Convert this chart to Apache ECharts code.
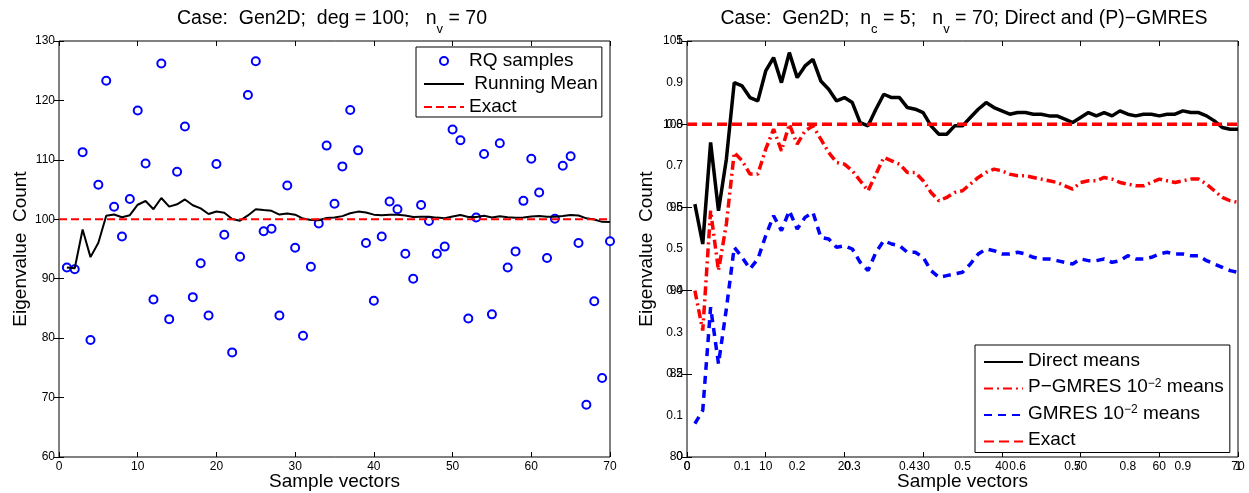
<!DOCTYPE html>
<html><head><meta charset="utf-8">
<script src="https://cdn.jsdelivr.net/npm/echarts@6/dist/echarts.min.js"></script>
<style>html,body{margin:0;padding:0;background:#fff}#c{width:1249px;height:493px}</style>
</head><body><div id="c"></div>
<script>
const sampleIdx = [1,2,3,4,5,6,7,8,9,10,11,12,13,14,15,16,17,18,19,20,21,22,23,24,25,26,27,28,29,30,31,32,33,34,35,36,37,38,39,40,41,42,43,44,45,46,47,48,49,50,51,52,53,54,55,56,57,58,59,60,61,62,63,64,65,66,67,68,69,70];
const rqSamples = [91.9,91.6,111.3,79.7,105.8,123.3,102.1,97.1,103.4,118.3,
  109.4,86.5,126.2,83.2,108.0,115.6,86.9,92.6,83.8,109.3,
  97.4,77.6,93.7,120.9,126.6,98.0,98.4,83.8,105.7,95.2,
  80.4,92.0,99.3,112.4,102.6,108.9,118.4,111.6,96.0,86.3,
  97.1,103.0,101.7,94.2,90.0,102.4,99.7,94.2,95.4,115.1,
  113.3,83.3,100.3,111.0,84.0,112.8,91.9,94.6,103.1,110.2,
  104.5,93.5,100.1,109.0,110.6,96.0,68.8,86.2,73.3,96.3];
const runningMean = [91.90,91.75,98.27,93.63,96.06,100.60,100.81,100.35,100.69,102.45,
  103.08,101.70,103.58,102.13,102.52,103.34,102.37,101.83,100.88,101.30,
  101.11,100.05,99.77,100.65,101.69,101.55,101.43,100.80,100.97,100.78,
  100.12,99.87,99.85,100.22,100.29,100.53,101.01,101.29,101.15,100.78,
  100.69,100.75,100.77,100.62,100.38,100.43,100.41,100.28,100.18,100.48,
  100.73,100.40,100.39,100.59,100.29,100.51,100.36,100.26,100.31,100.48,
  100.54,100.43,100.42,100.56,100.71,100.64,100.16,99.96,99.57,99.53];
const exactX = [0, 70];
const exactY = [100, 100];
const directMeans = [95.2,92.8,98.9,94.8,97.9,102.5,102.3,101.6,101.4,103.2,
  104.0,102.5,104.3,102.8,103.5,103.9,102.6,102.1,101.4,101.6,
  101.3,100.1,99.9,100.9,101.8,101.6,101.6,101.0,100.9,100.7,
  99.9,99.4,99.4,99.9,99.9,100.4,100.9,101.3,101.0,100.8,
  100.6,100.7,100.7,100.6,100.6,100.5,100.5,100.3,100.1,100.4,
  100.7,100.5,100.7,100.5,100.8,100.6,100.5,100.6,100.6,100.5,
  100.6,100.6,100.8,100.7,100.7,100.5,100.2,99.8,99.7,99.7];
const pgmresMeans = [90.0,87.6,94.8,91.2,94.0,98.3,97.8,97.0,97.0,98.5,
  99.7,98.4,100.0,98.8,99.6,99.9,99.1,98.3,97.7,97.6,
  97.2,96.6,96.0,97.0,98.0,97.8,97.6,97.1,97.1,96.6,
  95.9,95.4,95.6,95.9,96.0,96.4,96.8,97.1,97.3,97.2,
  97.0,96.9,96.9,96.8,96.7,96.6,96.5,96.3,96.1,96.5,
  96.6,96.6,96.8,96.7,96.5,96.4,96.3,96.3,96.5,96.7,
  96.6,96.5,96.6,96.7,96.7,96.4,96.0,95.6,95.4,95.3];
const gmresMeans = [82.0,82.8,89.0,85.6,88.9,92.6,92.0,91.3,91.9,93.3,
  94.5,93.6,94.8,93.7,94.4,94.7,93.2,93.1,92.6,92.7,
  92.5,91.7,91.2,92.3,93.0,92.8,92.7,92.3,92.3,92.0,
  91.2,90.8,90.9,91.0,91.1,91.6,92.2,92.5,92.4,92.2,
  92.2,92.3,92.2,92.0,91.9,91.9,91.8,91.7,91.6,91.9,
  91.8,91.8,91.9,91.7,91.8,92.1,91.9,91.9,92.0,92.2,
  92.3,92.2,92.2,92.1,92.1,91.8,91.6,91.4,91.2,91.1];
const xTicks = [0,10,20,30,40,50,60,70];
const leftYTicks = [60,70,80,90,100,110,120,130];
const rightYTicks = [80,85,90,95,100,105];
const unitTicks = [0,0.1,0.2,0.3,0.4,0.5,0.6,0.7,0.8,0.9,1];

const F = "'Liberation Sans', Arial, Helvetica, sans-serif";
const pairs = (xs, ys) => xs.map((x, i) => [x, ys[i]]);
const span = t => ({min: t[0], max: t[t.length-1], interval: t[1]-t[0]});

function axis(o) {
  return Object.assign({
    type: 'value', splitLine: {show: false},
    axisLine: {show: false},
    nameMoveOverlap: false,
    axisTick: {show: true, inside: true, length: 5, lineStyle: {color: '#000', width: 1}},
    axisLabel: {show: false, color: '#000', fontSize: 12, fontFamily: F, margin: 4}
  }, o);
}
const lbl = {show: true, color: '#000', fontSize: 12, fontFamily: F, margin: 4};
const nameStyle = {color: '#000', fontSize: 19, fontFamily: F};
const titleRich = {
  t: {fontSize: 19.5, lineHeight: 27, verticalAlign: 'top', fontFamily: F, fontWeight: 'normal', color: '#000'},
  s: {fontSize: 13, lineHeight: 27, verticalAlign: 'bottom', fontFamily: F, fontWeight: 'normal', color: '#000'}
};
const hideSym = {color: 'transparent', borderColor: 'transparent', opacity: 0};

const chart = echarts.init(document.getElementById('c'), null, {renderer: 'canvas'});
chart.setOption({
  animation: false,
  backgroundColor: '#fff',
  title: [
    {text: '{t|Case:  Gen2D;  deg = 100;   n}{s|v}{t| = 70}', left: 327, textAlign: 'center', top: 4,
     textStyle: {fontWeight: 'normal', rich: titleRich}},
    {text: '{t|Case:  Gen2D;  n}{s|c}{t| = 5;   n}{s|v}{t| = 70; Direct and (P)\u2212GMRES}', left: 959, textAlign: 'center', top: 4,
     textStyle: {fontWeight: 'normal', rich: titleRich}}
  ],
  grid: [
    {left: 59, top: 41, right: 639, bottom: 36, outerBoundsMode: 'none', containLabel: false, show: true, borderColor: '#000', borderWidth: 1, backgroundColor: 'transparent'},
    {left: 687, top: 41, right: 11, bottom: 36, outerBoundsMode: 'none', containLabel: false, show: true, borderColor: '#000', borderWidth: 1, backgroundColor: 'transparent'}
  ],
  xAxis: [
    axis(Object.assign({gridIndex: 0, position: 'bottom', axisLabel: lbl, name: 'Sample vectors', nameLocation: 'middle', nameGap: 15, nameTextStyle: nameStyle}, span(xTicks))),
    axis(Object.assign({gridIndex: 0, position: 'top'}, span(xTicks))),
    axis(Object.assign({gridIndex: 1, position: 'bottom', axisLabel: lbl, name: 'Sample vectors', nameLocation: 'middle', nameGap: 15, nameTextStyle: nameStyle}, span(xTicks))),
    axis(Object.assign({gridIndex: 1, position: 'top'}, span(xTicks))),
    axis(Object.assign({gridIndex: 1, position: 'bottom', axisTick: {show: false}, axisLabel: lbl}, span(unitTicks)))
  ],
  yAxis: [
    axis(Object.assign({gridIndex: 0, position: 'left', axisLabel: lbl, name: 'Eigenvalue  Count', nameLocation: 'middle', nameGap: 29, nameTextStyle: nameStyle}, span(leftYTicks))),
    axis(Object.assign({gridIndex: 0, position: 'right'}, span(leftYTicks))),
    axis(Object.assign({gridIndex: 1, position: 'left', axisLabel: lbl, name: 'Eigenvalue  Count', nameLocation: 'middle', nameGap: 31, nameTextStyle: nameStyle}, span(rightYTicks))),
    axis(Object.assign({gridIndex: 1, position: 'right'}, span(rightYTicks))),
    axis(Object.assign({gridIndex: 1, position: 'left', axisTick: {show: false}, axisLabel: lbl}, span(unitTicks)))
  ],
  legend: [
    {left: 416, top: 47, orient: 'vertical', itemWidth: 40, itemHeight: 8, itemGap: 3, itemTextGap: 5,
     padding: [4, 4, 0, 7], borderColor: '#000', borderWidth: 1, backgroundColor: '#fff', borderRadius: 0,
     textStyle: {fontSize: 19, fontFamily: F, color: '#000', lineHeight: 20},
     data: [{name: 'RQ samples', icon: 'emptyCircle'},
            {name: 'Running Mean', itemStyle: hideSym},
            {name: 'Exact', itemStyle: hideSym}],
     formatter: n => n === 'Running Mean' ? ' Running Mean' : n},
    {left: 975, top: 345, orient: 'vertical', itemWidth: 39, itemHeight: 10, itemGap: 7.5, itemTextGap: 7,
     padding: [6, 6, 3, 8], borderColor: '#000', borderWidth: 1, backgroundColor: '#fff', borderRadius: 0,
     textStyle: {fontSize: 19, fontFamily: F, color: '#000',
       rich: {m: {fontSize: 19, lineHeight: 22, verticalAlign: 'top', fontFamily: F, color: '#000'},
              p: {fontSize: 12, lineHeight: 10, verticalAlign: 'top', fontFamily: F, color: '#000'}}},
     data: [{name: 'Direct means', itemStyle: hideSym}, {name: 'P-GMRES', itemStyle: hideSym},
            {name: 'GMRES', itemStyle: hideSym}, {name: 'Exact2', itemStyle: hideSym}],
     formatter: n => ({
       'Direct means': '{m|Direct means}',
       'P-GMRES': '{m|P\u2212GMRES 10}{p|\u22122}{m| means}',
       'GMRES': '{m|GMRES 10}{p|\u22122}{m| means}',
       'Exact2': '{m|Exact}'
     })[n]}
  ],
  series: [
    {name: 'RQ samples', type: 'scatter', xAxisIndex: 0, yAxisIndex: 0, data: pairs(sampleIdx, rqSamples),
     symbol: 'emptyCircle', symbolSize: 8, itemStyle: {color: '#0000ff', borderColor: '#0000ff', borderWidth: 2, opacity: 1}},
    {name: 'Running Mean', type: 'line', xAxisIndex: 0, yAxisIndex: 0, data: pairs(sampleIdx, runningMean),
     symbol: 'none', lineStyle: {color: '#000', width: 2}, itemStyle: {color: '#000'}},
    {name: 'Exact', type: 'line', xAxisIndex: 0, yAxisIndex: 0, data: pairs(exactX, exactY),
     symbol: 'none', lineStyle: {color: '#ff0000', width: 2, type: [8, 4]}, itemStyle: {color: '#ff0000'}},
    {name: 'Direct means', type: 'line', xAxisIndex: 2, yAxisIndex: 2, data: pairs(sampleIdx, directMeans),
     symbol: 'none', lineStyle: {color: '#000', width: 3.5}, itemStyle: {color: '#000'}},
    {name: 'P-GMRES', type: 'line', xAxisIndex: 2, yAxisIndex: 2, data: pairs(sampleIdx, pgmresMeans),
     symbol: 'none', lineStyle: {color: '#ff0000', width: 3.5, type: [9, 4, 2, 4]}, itemStyle: {color: '#ff0000'}},
    {name: 'GMRES', type: 'line', xAxisIndex: 2, yAxisIndex: 2, data: pairs(sampleIdx, gmresMeans),
     symbol: 'none', lineStyle: {color: '#0000ff', width: 3.5, type: [8, 6]}, itemStyle: {color: '#0000ff'}},
    {name: 'Exact2', type: 'line', xAxisIndex: 2, yAxisIndex: 2, data: pairs(exactX, exactY),
     symbol: 'none', lineStyle: {color: '#ff0000', width: 3.5, type: [10, 5]}, itemStyle: {color: '#ff0000'}}
  ]
});
</script></body></html>
